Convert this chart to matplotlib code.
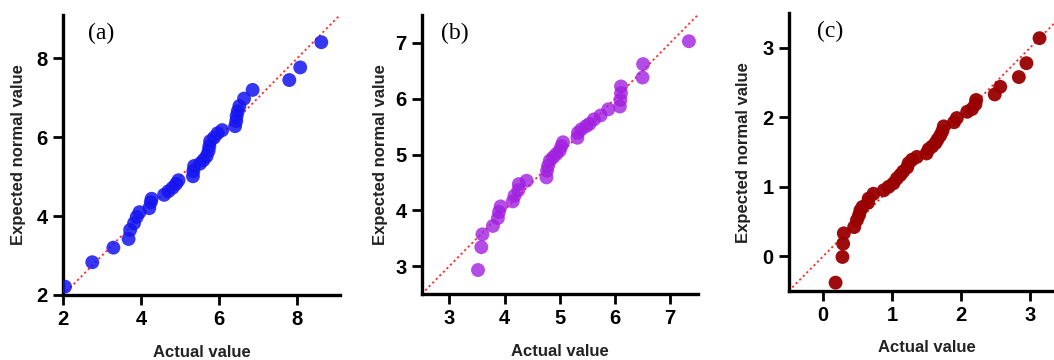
import matplotlib
matplotlib.use("Agg")
import matplotlib.pyplot as plt

# Data
a_actual = [2.05, 2.75, 3.29, 3.68, 3.72, 3.82, 3.89, 3.96, 4.21, 4.25, 4.27,
            4.59, 4.70, 4.81, 4.90, 4.96, 5.33, 5.34, 5.36, 5.51, 5.60, 5.68,
            5.73, 5.75, 5.77, 5.87, 5.96, 6.08, 6.41, 6.44, 6.45, 6.48, 6.52,
            6.64, 6.86, 7.80, 8.08, 8.62]
a_expected = [2.21, 2.83, 3.20, 3.42, 3.65, 3.82, 3.98, 4.10, 4.20, 4.35, 4.44,
              4.54, 4.63, 4.72, 4.82, 4.91, 5.01, 5.14, 5.27, 5.33, 5.42, 5.52,
              5.65, 5.77, 5.90, 5.99, 6.10, 6.18, 6.28, 6.41, 6.54, 6.66, 6.79,
              6.98, 7.20, 7.45, 7.77, 8.41]

b_actual = [3.52, 3.58, 3.60, 3.79, 3.88, 3.90, 3.93, 4.15, 4.18, 4.25, 4.26,
            4.40, 4.76, 4.77, 4.79, 4.82, 4.88, 4.94, 5.00, 5.03, 5.06, 5.32,
            5.33, 5.39, 5.48, 5.54, 5.62, 5.74, 5.88, 6.09, 6.10, 6.11, 6.11,
            6.50, 6.51, 7.34]
b_expected = [2.93, 3.34, 3.57, 3.72, 3.86, 3.97, 4.07, 4.16, 4.26, 4.36, 4.47,
              4.53, 4.59, 4.71, 4.80, 4.89, 4.95, 5.01, 5.07, 5.15, 5.22, 5.30,
              5.39, 5.45, 5.51, 5.55, 5.63, 5.70, 5.81, 5.86, 5.98, 6.10, 6.22,
              6.38, 6.62, 7.03]

c_actual = [0.18, 0.28, 0.29, 0.30, 0.45, 0.49, 0.52, 0.54, 0.57, 0.65, 0.66,
            0.73, 0.88, 0.95, 1.02, 1.07, 1.12, 1.16, 1.22, 1.24, 1.29, 1.36,
            1.50, 1.53, 1.58, 1.63, 1.66, 1.70, 1.73, 1.75, 1.90, 1.94, 2.09,
            2.16, 2.21, 2.22, 2.49, 2.57, 2.84, 2.95, 3.14]
c_expected = [-0.38, -0.01, 0.18, 0.33, 0.42, 0.52, 0.59, 0.66, 0.71, 0.77, 0.83,
              0.90, 0.95, 1.00, 1.05, 1.12, 1.17, 1.22, 1.28, 1.34, 1.39, 1.43,
              1.48, 1.54, 1.58, 1.63, 1.68, 1.74, 1.80, 1.87, 1.93, 1.99, 2.08,
              2.12, 2.19, 2.25, 2.33, 2.44, 2.58, 2.78, 3.14]

panels = [
    dict(x=a_actual, y=a_expected, tag="(a)", color="#1414f0", alpha=0.85,
         lim=(2, 9.1), ticks=[2, 4, 6, 8],
         pos=[0.0598, 0.1806, 0.2628, 0.7778], tagx=0.09, ylab=-0.16),
    dict(x=b_actual, y=b_expected, tag="(b)", color="#a21fe0", alpha=0.8,
         lim=(2.5, 7.5), ticks=[3, 4, 5, 6, 7],
         pos=[0.4001, 0.1833, 0.2619, 0.7750], tagx=0.07, ylab=-0.15),
    dict(x=c_actual, y=c_expected, tag="(c)", color="#990000", alpha=0.95,
         lim=(-0.5, 3.5), ticks=[0, 1, 2, 3],
         pos=[0.7483, 0.1917, 0.2615, 0.7717], tagx=0.103, ylab=-0.165),
]

fig = plt.figure(figsize=(10.54, 3.6), dpi=100)

for p in panels:
    ax = fig.add_axes(p["pos"])
    ax.scatter(p["x"], p["y"], s=100, color=p["color"], alpha=p["alpha"],
               edgecolors="none", zorder=3)
    ax.axline((0, 0), slope=1, color="#ff2a2a", lw=1.3, ls=(0, (1.2, 1.6)),
              zorder=2)
    ax.set_xlim(p["lim"])
    ax.set_ylim(p["lim"])
    ax.set_xticks(p["ticks"])
    ax.set_yticks(p["ticks"])
    for s in ["top", "right"]:
        ax.spines[s].set_visible(False)
    for s in ["left", "bottom"]:
        ax.spines[s].set_linewidth(2.4)
    ax.tick_params(direction="out", length=7, width=2, labelsize=14.5, pad=4)
    for lab in ax.get_xticklabels() + ax.get_yticklabels():
        lab.set_fontfamily("Liberation Sans")
        lab.set_fontweight("bold")
    ax.set_xlabel("Actual value", fontsize=12, fontweight="bold",
                  fontfamily="Liberation Sans", color="#222222")
    ax.set_ylabel("Expected normal value", fontsize=12, fontweight="bold",
                  fontfamily="Liberation Sans", color="#222222")
    ax.xaxis.label.set_va("center")
    ax.yaxis.label.set_va("center")
    ax.xaxis.set_label_coords(0.5, -0.205)
    ax.yaxis.set_label_coords(p["ylab"], 0.5)
    ax.text(p["tagx"], 0.935, p["tag"], transform=ax.transAxes,
            fontsize=17, fontfamily="Liberation Serif", va="center", ha="left")

fig.savefig("out.png", dpi=100)
